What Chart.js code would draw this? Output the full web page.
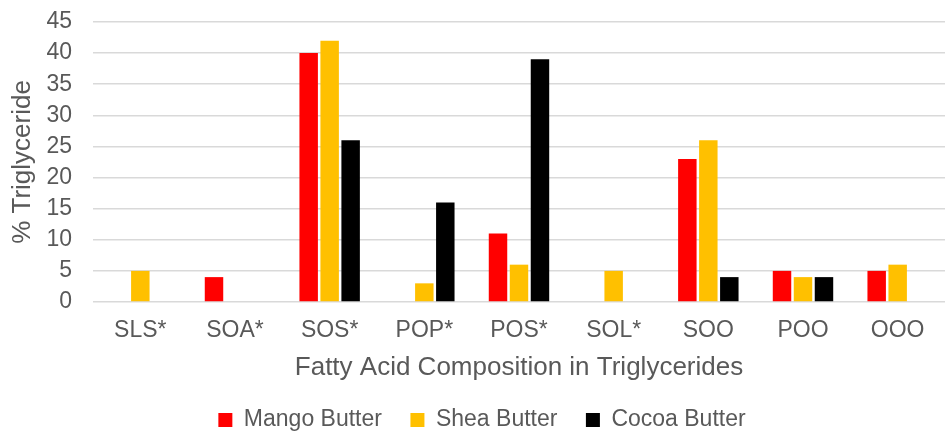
<!DOCTYPE html>
<html>
<head>
<meta charset="utf-8">
<script src="https://cdn.jsdelivr.net/npm/chart.js@4.4.0/dist/chart.umd.min.js"></script>
<style>
  html, body { margin: 0; padding: 0; background: #fff; }
  #wrap { width: 948px; height: 431px; }
</style>
</head>
<body>
<div id="wrap"><canvas id="chart"></canvas></div>
<script>
const categories = ['SLS*', 'SOA*', 'SOS*', 'POP*', 'POS*', 'SOL*', 'SOO', 'POO', 'OOO'];
const mangoButter = [0, 4, 40, 0, 11, 0, 23, 5, 5];
const sheaButter = [5, 0, 42, 3, 6, 5, 26, 4, 6];
const cocoaButter = [0, 0, 26, 16, 39, 0, 4, 4, 0];
const yTicks = [0, 5, 10, 15, 20, 25, 30, 35, 40, 45];

const textColor = '#595959';
const fontFamily = '"Liberation Sans", Arial, sans-serif';

// keep the legend short so it sits close to the axis title, nudge it right a bit
const legendPlace = {
  id: 'legendPlace',
  beforeLayout(chart) {
    const legend = chart.legend;
    if (!legend || legend._patched) return;
    const fit = legend.fit;
    legend.fit = function () {
      fit.call(this);
      this.height = 51;
    };
    legend._patched = true;
  },
  afterLayout(chart) {
    chart.legend.left += 6;
    chart.legend.right += 6;
  }
};

const ctx = document.getElementById('chart').getContext('2d');
new Chart(ctx, {
  type: 'bar',
  data: {
    labels: categories,
    datasets: [
      { label: 'Mango Butter', data: mangoButter, backgroundColor: '#ff0000' },
      { label: 'Shea Butter', data: sheaButter, backgroundColor: '#ffc000' },
      { label: 'Cocoa Butter', data: cocoaButter, backgroundColor: '#000000' }
    ]
  },
  plugins: [legendPlace],
  options: {
    responsive: true,
    maintainAspectRatio: false,
    animation: false,
    categoryPercentage: 0.665,
    barPercentage: 0.88,
    layout: { padding: { left: 7, right: 3, top: 22, bottom: 0 } },
    plugins: {
      tooltip: { enabled: false },
      legend: {
        position: 'bottom',
        labels: {
          color: textColor,
          font: { family: fontFamily, size: 23 },
          boxWidth: 14,
          boxHeight: 14,
          padding: 28.5
        }
      }
    },
    scales: {
      x: {
        grid: { display: false, drawTicks: false },
        border: { display: false },
        ticks: {
          color: textColor,
          font: { family: fontFamily, size: 23 },
          maxRotation: 0,
          autoSkip: false,
          padding: 15
        },
        title: {
          display: true,
          text: 'Fatty Acid Composition in Triglycerides',
          color: textColor,
          font: { family: fontFamily, size: 26 },
          padding: { top: -7.7, bottom: -3.1 }
        }
      },
      y: {
        min: 0,
        max: 45,
        afterBuildTicks: (axis) => { axis.ticks = yTicks.map(v => ({ value: v })); },
        grid: {
          color: '#d9d9d9',
          lineWidth: 1.5,
          drawTicks: true,
          tickLength: 21,
          tickColor: 'rgba(0,0,0,0)'
        },
        border: { display: false },
        ticks: {
          color: textColor,
          font: { family: fontFamily, size: 23 },
          autoSkip: false,
          padding: 0
        },
        title: {
          display: true,
          text: '% Triglyceride',
          color: textColor,
          font: { family: fontFamily, size: 26 },
          padding: { top: 0, bottom: 8.2 }
        }
      }
    }
  }
});
</script>
</body>
</html>
